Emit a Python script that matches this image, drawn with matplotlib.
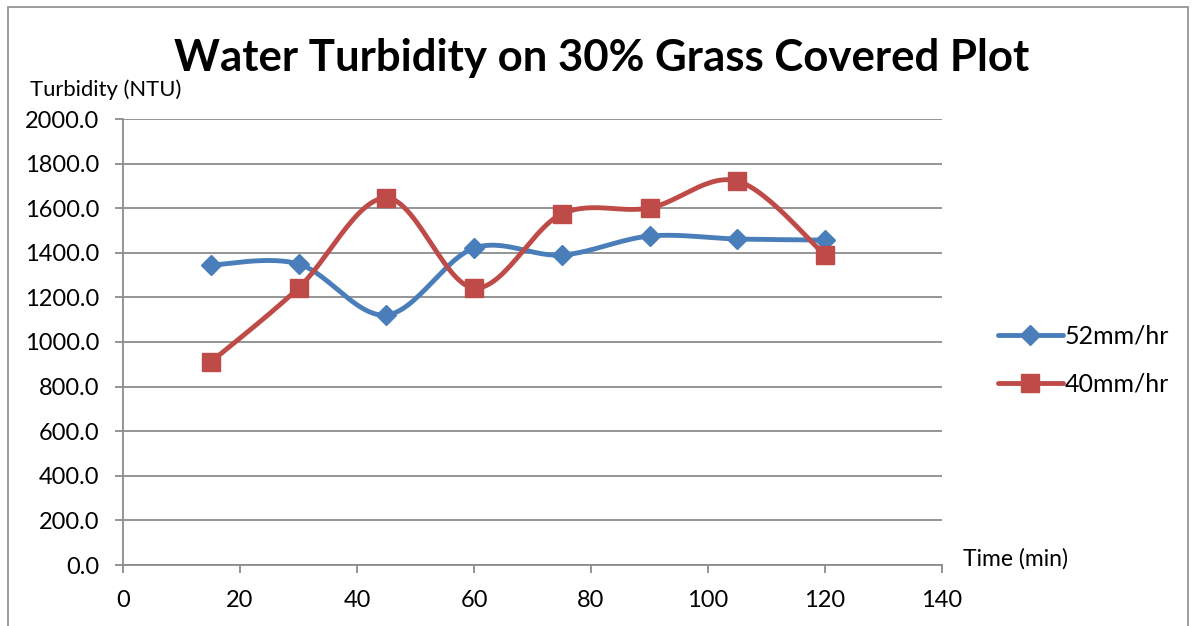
import numpy as np
import matplotlib
matplotlib.use("Agg")
import matplotlib.pyplot as plt
from matplotlib.patches import Rectangle

time_min = [15, 30, 45, 60, 75, 90, 105, 120]
turb_52 = [1345, 1350, 1121, 1421, 1390, 1475, 1462, 1457]
turb_40 = [910, 1242, 1646, 1242, 1574, 1601, 1722, 1390]
series_names = ["52mm/hr", "40mm/hr"]
title = "Water Turbidity on 30% Grass Covered Plot"
ylabel = "Turbidity (NTU)"
xlabel = "Time (min)"

plt.rcParams['font.family'] = ['Lato', 'DejaVu Sans']

def smooth(x, y, n=30):
    x = np.asarray(x, float); y = np.asarray(y, float)
    P = np.column_stack([x, y])
    Pe = np.vstack([P[0], P, P[-1]])
    out = []
    t = np.linspace(0, 1, n)[:, None]
    for i in range(len(P) - 1):
        p0 = Pe[i + 1]; p3 = Pe[i + 2]
        p1 = p0 + (Pe[i + 2] - Pe[i]) / 6
        p2 = p3 - (Pe[i + 3] - Pe[i + 1]) / 6
        seg = (1 - t) ** 3 * p0 + 3 * (1 - t) ** 2 * t * p1 + 3 * (1 - t) * t ** 2 * p2 + t ** 3 * p3
        out.append(seg if i == 0 else seg[1:])
    s = np.vstack(out)
    return s[:, 0], s[:, 1]

fig = plt.figure(figsize=(11.98, 6.26), dpi=100)
fig.patches.append(Rectangle((8 / 1198, -5 / 626), 1180 / 1198, 624 / 626, transform=fig.transFigure,
                             fill=False, edgecolor='#8c8c8c', linewidth=1.2))
ax = fig.add_axes([123 / 1198, 1 - 565 / 626, (942 - 123) / 1198, (565 - 119) / 626])

colors = ['#4A7EBB', '#BE4B48']
markers = ['D', 's']
msizes = [10, 13]
handles = []
for vals, c, m, ms, name in zip([turb_52, turb_40], colors, markers, msizes, series_names):
    sx, sy = smooth(time_min, vals)
    ax.plot(sx, sy, color=c, linewidth=3.5, solid_capstyle='round', zorder=3)
    ax.plot(time_min, vals, linestyle='none', marker=m, markersize=ms, color=c, zorder=4)
    h, = ax.plot([], [], color=c, linewidth=3.5, marker=m, markersize=ms, solid_capstyle='round')
    handles.append(h)

ax.set_xlim(0, 140)
ax.set_ylim(0, 2000)
ax.set_xticks(np.arange(0, 141, 20))
ax.set_yticks(np.arange(0, 2001, 200))
ax.set_yticklabels([f"{v:.1f}" for v in np.arange(0, 2001, 200)])
ax.yaxis.grid(True, color='#8c8c8c', linewidth=1.3)
ax.set_axisbelow(True)
for s in ['top', 'right']:
    ax.spines[s].set_visible(False)
for s in ['left', 'bottom']:
    ax.spines[s].set_color('#8c8c8c')
    ax.spines[s].set_linewidth(1.3)
ax.tick_params(axis='both', direction='out', length=6, color='#8c8c8c', width=1.3, labelsize=17)
ax.tick_params(axis='x', pad=12)
ax.tick_params(axis='y', pad=11)

fig.text(602 / 1198, 1 - 58 / 626, title, ha='center', va='center', fontsize=31.5, fontweight='bold')
fig.text(30 / 1198, 1 - 90 / 626, ylabel, ha='left', va='center', fontsize=15.8)
fig.text(963 / 1198, 1 - 559 / 626, xlabel, ha='left', va='center', fontsize=16.5)

fig.legend(handles, series_names, loc='center left', bbox_to_anchor=(975 / 1198, 1 - 360 / 626),
           frameon=False, fontsize=18, handlelength=2.6, labelspacing=1.0, handletextpad=0.1)

fig.savefig("out.png", dpi=100)
